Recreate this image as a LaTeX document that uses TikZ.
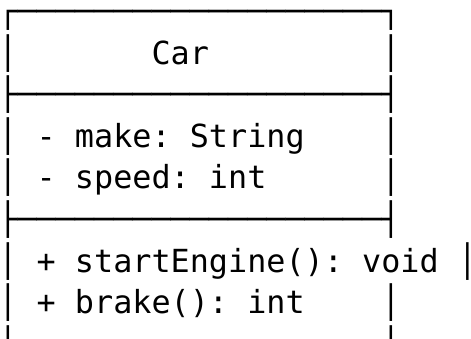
\documentclass[tikz,border=0pt]{standalone}
\usepackage{fontspec}
\setmonofont{DejaVu Sans Mono}
\begin{document}
\begin{tikzpicture}[x=1pt,y=1pt,
  rowtext/.style={anchor=base west,inner sep=0pt,outer sep=0pt,
    font=\fontsize{31.8}{41.5}\selectfont\ttfamily\frenchspacing}]
\clip (0,0) rectangle (471,-339);
\fill[white] (0,0) rectangle (471,-339);
\node[rowtext] (r0) at (-1.6,-23.0)  {┌───────────────────┐};
\node[rowtext] (r1) at (-1.6,-64.5)  {│~~~~~~~Car~~~~~~~~~│};
\node[rowtext] (r2) at (-1.6,-106.0) {├───────────────────┤};
\node[rowtext] (r3) at (-1.6,-147.5) {│~-~make:~String~~~~│};
\node[rowtext] (r4) at (-1.6,-189.0) {│~-~speed:~int~~~~~~│};
\node[rowtext] (r5) at (-1.6,-230.5) {├───────────────────┤};
\node[rowtext] (r6) at (-1.6,-272.0) {│~+~startEngine():~void~│};
\node[rowtext] (r7) at (-1.6,-313.5) {│~+~brake():~int~~~~│};
\node[rowtext] (r8) at (-1.6,-355.0) {│~~~~~~~~~~~~~~~~~~~│};
\end{tikzpicture}
\end{document}
